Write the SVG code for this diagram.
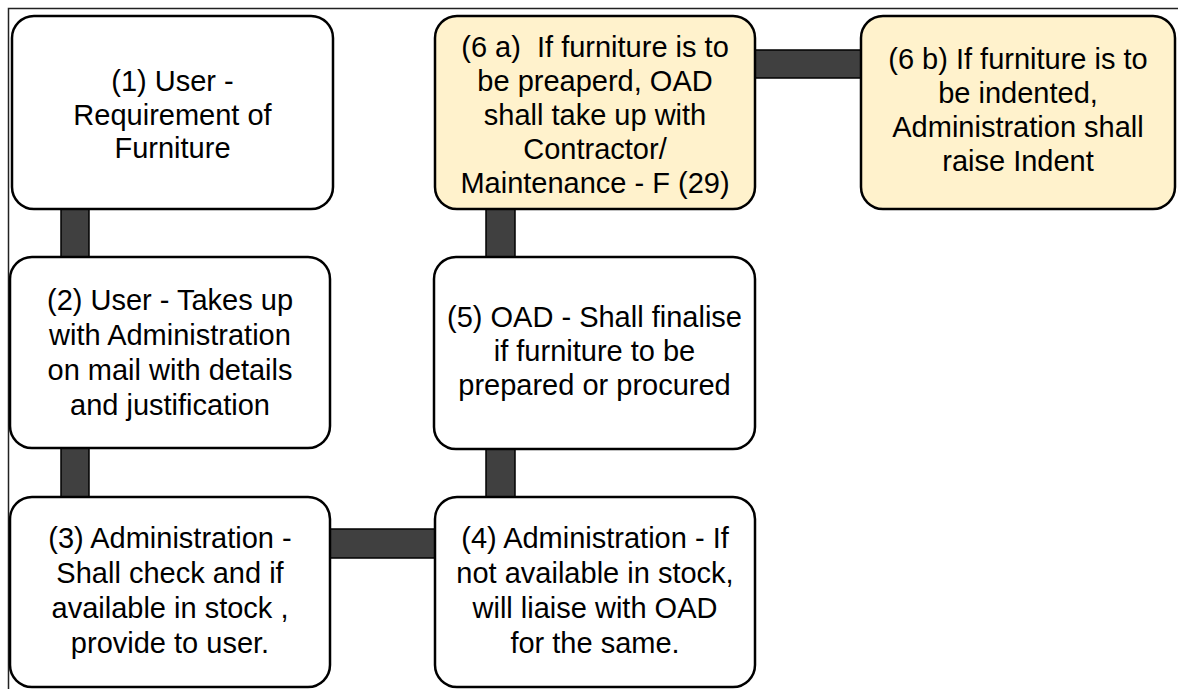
<svg xmlns="http://www.w3.org/2000/svg" width="1178" height="689" viewBox="0 0 1178 689">
  <style>
    .node { fill: #ffffff; stroke: #000000; stroke-width: 2.5; }
    .alt { fill: #fff2cc; }
    .bar { fill: #404040; stroke: #000000; stroke-width: 1.5; }
    .frame { stroke: #222222; stroke-width: 1.5; fill: none; }
    text { font-family: "Liberation Sans", Arial, sans-serif; font-size: 29px; fill: #000000; text-anchor: middle; white-space: pre; }
  </style>
  <rect width="1178" height="689" fill="#ffffff"/>
  <!-- page frame -->
  <path class="frame" d="M8.5,689 L8.5,8.5 L1178,8.5"/>

  <!-- connectors -->
  <g id="connectors">
    <rect class="bar" x="61" y="207" width="28" height="52"/>
    <rect class="bar" x="61" y="446" width="28" height="53"/>
    <rect class="bar" x="329" y="529" width="107" height="29"/>
    <rect class="bar" x="486" y="447" width="29" height="52"/>
    <rect class="bar" x="486" y="207" width="29" height="52"/>
    <rect class="bar" x="753" y="50" width="110" height="28"/>
  </g>

  <g id="n1">
    <rect class="node" x="12" y="16" width="321" height="193" rx="22"/>
    <text x="172.5" y="91">(1) User -</text>
    <text x="172.5" y="124.5">Requirement of</text>
    <text x="172.5" y="158">Furniture</text>
  </g>

  <g id="n2">
    <rect class="node" x="10" y="257" width="320" height="191" rx="22"/>
    <text x="170" y="310">(2) User - Takes up</text>
    <text x="170" y="345">with Administration</text>
    <text x="170" y="380">on mail with details</text>
    <text x="170" y="415">and justification</text>
  </g>

  <g id="n3">
    <rect class="node" x="10" y="497" width="320" height="190" rx="22"/>
    <text x="170" y="548">(3) Administration -</text>
    <text x="170" y="583">Shall check and if</text>
    <text x="170" y="618">available in stock ,</text>
    <text x="170" y="653">provide to user.</text>
  </g>

  <g id="n4">
    <rect class="node" x="435" y="497" width="320" height="190" rx="22"/>
    <text x="595" y="548">(4) Administration - If</text>
    <text x="595" y="583">not available in stock,</text>
    <text x="595" y="618">will liaise with OAD</text>
    <text x="595" y="653">for the same.</text>
  </g>

  <g id="n5">
    <rect class="node" x="434" y="257" width="321" height="192" rx="22"/>
    <text x="594.5" y="327">(5) OAD - Shall finalise</text>
    <text x="594.5" y="361">if furniture to be</text>
    <text x="594.5" y="395">prepared or procured</text>
  </g>

  <g id="n6a">
    <rect class="node alt" x="435" y="16" width="320" height="193" rx="22"/>
    <text x="595" y="57">(6 a)  If furniture is to</text>
    <text x="595" y="91">be preaperd, OAD</text>
    <text x="595" y="125">shall take up with</text>
    <text x="595" y="159">Contractor/</text>
    <text x="595" y="193">Maintenance - F (29)</text>
  </g>

  <g id="n6b">
    <rect class="node alt" x="861" y="16" width="314" height="193" rx="22"/>
    <text x="1018" y="69">(6 b) If furniture is to</text>
    <text x="1018" y="103">be indented,</text>
    <text x="1018" y="137">Administration shall</text>
    <text x="1018" y="171">raise Indent</text>
  </g>
</svg>
